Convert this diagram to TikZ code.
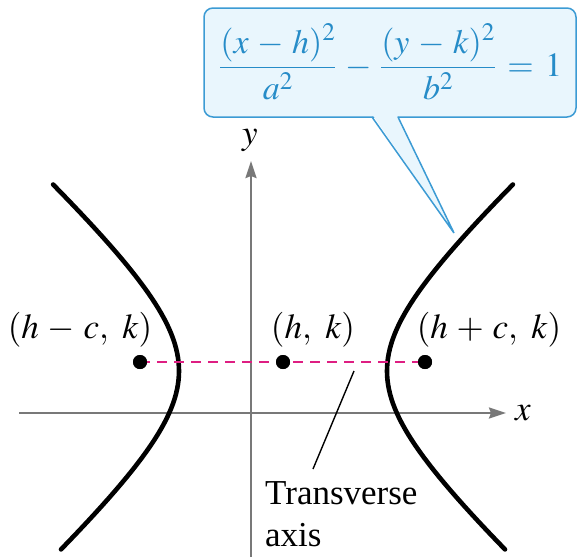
\documentclass[tikz,border=0pt]{standalone}
\usepackage{amsmath}
\usepackage{mathptmx}
\usepackage{fontspec}
\setmainfont{Liberation Serif}
\usetikzlibrary{arrows.meta}
\definecolor{eqblue}{RGB}{38,140,200}
\definecolor{boxline}{RGB}{60,155,212}
\definecolor{boxfill}{RGB}{233,246,253}
\definecolor{axisgray}{RGB}{120,120,120}
\definecolor{transmag}{RGB}{222,30,130}
\tikzset{
  axisline/.style={draw=axisgray, line width=2.4pt, -{Stealth[length=17pt,width=11pt,inset=2pt]}},
  branch/.style={line width=4.6pt, line cap=round, black},
  dot/.style={circle, fill=black, inner sep=0pt, minimum size=14pt},
  lbl/.style={font=\fontsize{35}{42}\selectfont, inner sep=0pt},
  transline/.style={draw=transmag, line width=2.2pt, dash pattern=on 10pt off 7pt},
  leader/.style={draw=black, line width=1.4pt},
  calloutline/.style={draw=boxline, line width=1.5pt}
}
\newcommand{\smin}{\mskip2mu-\mskip2mu}
\newcommand{\splus}{\mskip2mu+\mskip2mu}
\newcommand{\seq}{\mskip2mu=\mskip2mu}
\newcommand{\scomma}{,\mskip5mu}
\begin{document}
\begin{tikzpicture}[x=1pt,y=-1pt]
\useasboundingbox (0,0) rectangle (578,557);
% callout
\draw[calloutline, fill=boxfill, rounded corners=9pt] (204,8) rectangle (576,117);
\fill[boxfill] (373,115.5) -- (454,233) -- (397,115.5) -- cycle;
\coordinate (tip) at (454,233);
\coordinate (cl) at (372,117);
\coordinate (cr) at (398,117);
\draw[calloutline, line join=miter] (cl) -- (tip) -- (cr);
\node[anchor=west, inner sep=0pt, text=eqblue, font=\fontsize{34}{40}\selectfont] (eq) at (219,62)
  {$\dfrac{(x\smin h)^2}{a^2}\smin\dfrac{(y\smin k)^2}{b^2}\seq1$};
% axes
\coordinate (xs) at (19,413);
\coordinate (xe) at (506,413);
\coordinate (ys) at (251,557);
\coordinate (ye) at (251,161);
\draw[axisline] (xs) -- (xe);
\draw[axisline] (ys) -- (ye);
\node[lbl, anchor=center] (xl) at (523,413) {$x$};
\node[lbl, anchor=center] (yl) at (250,140) {$y$};
% hyperbola
\draw[branch] plot[domain=-1.3915:1.4315, samples=60, variable=\t] ({283+104*cosh(\t)},{371-94.6*sinh(\t)});
\draw[branch] plot[domain=-1.3915:1.4315, samples=60, variable=\t] ({283-104*cosh(\t)},{371-94.6*sinh(\t)});
% transverse axis and points
\node[dot] (f1) at (140,362) {};
\node[dot] (c0) at (283,362) {};
\node[dot] (f2) at (425,362) {};
\draw[transline] (f1.center) -- (f2.center);
\node[dot] at (c0) {};
\node[dot] at (f1) {};
\node[dot] at (f2) {};
\node[lbl, anchor=base] (lf1) at (80,338) {$(h\smin c\scomma k)$};
\node[lbl, anchor=base] (lc0) at (313,338) {$(h\scomma k)$};
\node[lbl, anchor=base] (lf2) at (489,338) {$(h\splus c\scomma k)$};
% label
\node[lbl, anchor=north west, align=left] (tl) at (265,481) {Transverse\\axis};
\coordinate (lt) at (354,371);
\coordinate (lb) at (313,469);
\draw[leader] (lt) -- (lb);
\end{tikzpicture}
\end{document}
